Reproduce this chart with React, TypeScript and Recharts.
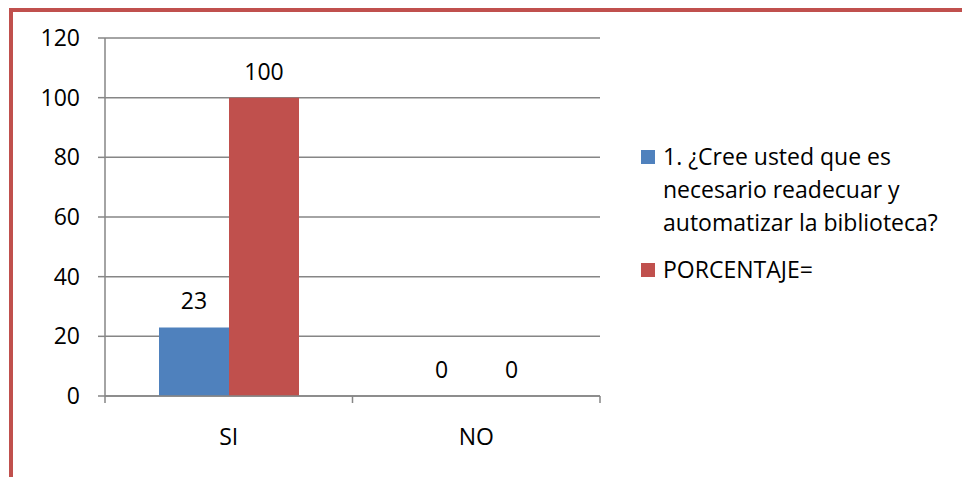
import React from 'react';
import { BarChart, Bar, XAxis, YAxis, CartesianGrid } from 'recharts';

const categories = ['SI', 'NO'];
const respuestas = [23, 0];
const porcentaje = [100, 0];
const yTicks = [0, 20, 40, 60, 80, 100, 120];

const series = [
    { key: 'respuestas', name: '1. ¿Cree usted que es necesario readecuar y automatizar la biblioteca?', color: '#4F81BD' },
    { key: 'porcentaje', name: 'PORCENTAJE=', color: '#C0504D' },
];

const data = categories.map((name, i) => ({
    name,
    respuestas: respuestas[i],
    porcentaje: porcentaje[i],
}));

const FONT = '"Open Sans", sans-serif';
const AXIS_GRAY = '#868686';
const FRAME_RED = '#C0504D';

const CHART_W = 962;
const CHART_H = 477;
const PLOT_LEFT = 105;
const PLOT_RIGHT = 600;
const PLOT_TOP = 38;
const PLOT_BOTTOM = 396;
const BAND = (PLOT_RIGHT - PLOT_LEFT) / categories.length;

// category labels centred in the band, tick marks on the band edges
const CategoryTick = (props: any) => {
    const { x, y, payload, index } = props;
    const left = x - BAND / 2;
    const right = x + BAND / 2;
    return (
        <g>
            <line x1={left} y1={y} x2={left} y2={y + 7} stroke={AXIS_GRAY} strokeWidth={1.5} />
            {index === categories.length - 1 && (
                <line x1={right} y1={y} x2={right} y2={y + 7} stroke={AXIS_GRAY} strokeWidth={1.5} />
            )}
            <text x={x} y={y + 49} textAnchor="middle" fill="#000" fontSize={23} fontFamily={FONT}>
                {payload.value}
            </text>
        </g>
    );
};

// value above each bar, also drawn for zero-height bars
const ValueLabel = (props: any) => {
    const { x, y, width, value } = props;
    return (
        <text x={x + width / 2} y={y - 18} textAnchor="middle" fill="#000" fontSize={23} fontFamily={FONT}>
            {value}
        </text>
    );
};

const LegendBox = () => (
    <div
        style={{
            position: 'absolute',
            left: 641,
            top: 140,
            fontFamily: FONT,
            fontSize: 23,
            lineHeight: '33px',
            color: '#000',
        }}
    >
        {series.map((s) => (
            <div key={s.key} style={{ display: 'flex', alignItems: 'flex-start', marginBottom: 14 }}>
                <div
                    style={{
                        width: 14,
                        height: 14,
                        background: s.color,
                        marginTop: 10,
                        marginRight: 8,
                        flexShrink: 0,
                    }}
                />
                <div style={{ width: 290 }}>{s.name}</div>
            </div>
        ))}
    </div>
);

export default function App() {
    return (
        <div
            style={{
                position: 'absolute',
                left: 0,
                top: 0,
                width: CHART_W,
                height: CHART_H,
                background: '#fff',
                fontFamily: FONT,
                overflow: 'hidden',
            }}
        >
            <div
                style={{
                    position: 'absolute',
                    left: 9,
                    top: 8,
                    width: CHART_W,
                    height: CHART_H,
                    borderTop: `4px solid ${FRAME_RED}`,
                    borderLeft: `4px solid ${FRAME_RED}`,
                    boxSizing: 'border-box',
                }}
            />
            <BarChart
                width={CHART_W}
                height={CHART_H}
                data={data}
                margin={{ top: PLOT_TOP, right: CHART_W - PLOT_RIGHT, bottom: 0, left: 0 }}
                barGap={0}
                style={{ position: 'absolute', left: 0, top: 0 }}
            >
                <CartesianGrid vertical={false} stroke={AXIS_GRAY} strokeWidth={1.5} />
                <XAxis
                    dataKey="name"
                    height={CHART_H - PLOT_BOTTOM}
                    tickSize={0}
                    tickMargin={0}
                    tickLine={false}
                    axisLine={{ stroke: AXIS_GRAY, strokeWidth: 1.5 }}
                    tick={<CategoryTick />}
                    interval={0}
                />
                <YAxis
                    width={PLOT_LEFT}
                    domain={[0, 120]}
                    ticks={yTicks}
                    tickSize={7}
                    tickMargin={18}
                    axisLine={{ stroke: AXIS_GRAY, strokeWidth: 1.5 }}
                    tickLine={{ stroke: AXIS_GRAY, strokeWidth: 1.5 }}
                    tick={{ fill: '#000', fontSize: 23, fontFamily: FONT }}
                />
                {series.map((s) => (
                    <Bar
                        key={s.key}
                        dataKey={s.key}
                        name={s.name}
                        fill={s.color}
                        barSize={70}
                        minPointSize={0.01}
                        isAnimationActive={false}
                        label={<ValueLabel />}
                    />
                ))}
            </BarChart>
            <LegendBox />
        </div>
    );
}
